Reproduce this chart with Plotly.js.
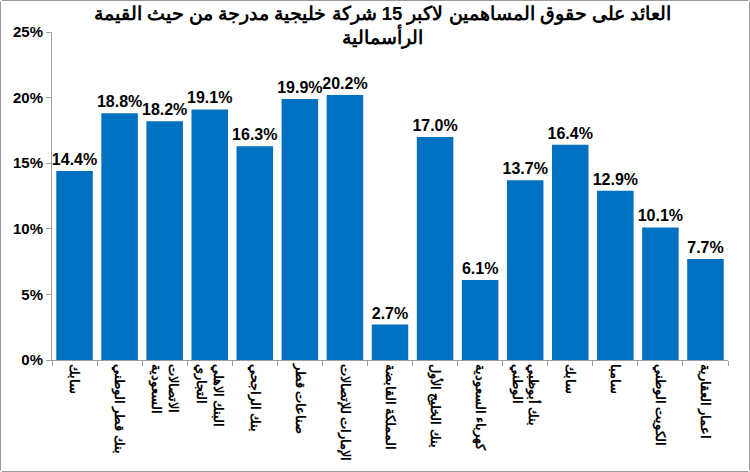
<!DOCTYPE html>
<html>
<head>
<meta charset="utf-8">
<script src="https://cdn.plot.ly/plotly-3.0.1.min.js"></script>
<style>
html,body{margin:0;padding:0;background:#fff;}
#chart{width:748px;height:470px;border:1px solid #9a9a9a;border-radius:3px;}
</style>
</head>
<body>
<div id="chart"></div>
<script>
var categories = [
  "سابك",
  "بنك قطر الوطني",
  "الاتصالات<br>السعودية",
  "البنك الاهلي<br>التجاري",
  "بنك الراجحي",
  "صناعات قطر",
  "الإمارات للإتصالات",
  "المملكة القابضة",
  "بنك الخليج الأول",
  "كهرباء السعودية",
  "بنك أبوظبي<br>الوطني",
  "سابك ",
  "سامبا",
  "الكويت الوطني",
  "اعمار العقارية"
];
var roe = [0.144, 0.188, 0.182, 0.191, 0.163, 0.199, 0.202, 0.027, 0.170, 0.061, 0.137, 0.164, 0.129, 0.101, 0.077];
var yTicks = [0, 0.05, 0.10, 0.15, 0.20, 0.25];
var yTickText = ["0%", "5%", "10%", "15%", "20%", "25%"];
var titleText = "العائد على حقوق المساهمين لاكبر 15 شركة خليجية مدرجة من حيث القيمة<br>الرأسمالية";

var trace = {
  type: "bar",
  x: categories,
  y: roe,
  marker: {color: "#0070C0"},
  text: roe.map(function(v){ return (v*100).toFixed(1) + "%"; }),
  textposition: "outside",
  constraintext: "none",
  textfont: {family: "Liberation Sans, Arial, sans-serif", size: 16, color: "#000", weight: "bold"},
  cliponaxis: false,
  hoverinfo: "none"
};

var layout = {
  width: 748, height: 470,
  margin: {l: 51, r: 21, t: 31, b: 111},
  paper_bgcolor: "#fff",
  plot_bgcolor: "#fff",
  bargap: 0.19,
  showlegend: false,
  title: {
    text: titleText,
    font: {family: "Liberation Sans, Arial, sans-serif", size: 18.5, color: "#000", weight: "bold"},
    x: 0.51, xanchor: "center",
    y: 0.96, yanchor: "top", yref: "container"
  },
  xaxis: {
    type: "category",
    showline: true, linecolor: "#a0a0a0", linewidth: 1,
    ticks: "outside", tickson: "boundaries", ticklen: 5, tickcolor: "#a0a0a0",
    tickangle: 90,
    tickfont: {family: "Liberation Sans, Arial, sans-serif", size: 13, color: "#000", weight: "bold"},
    showgrid: false, zeroline: false, fixedrange: true
  },
  yaxis: {
    range: [0, 0.25],
    tickvals: yTicks, ticktext: yTickText,
    showline: true, linecolor: "#a0a0a0", linewidth: 1,
    ticks: "outside", ticklen: 5, tickcolor: "#a0a0a0",
    tickfont: {family: "Liberation Sans, Arial, sans-serif", size: 15, color: "#000", weight: "bold"},
    showgrid: false, zeroline: false, fixedrange: true
  }
};

Plotly.newPlot("chart", [trace], layout, {displayModeBar: false, staticPlot: true});
</script>
</body>
</html>
